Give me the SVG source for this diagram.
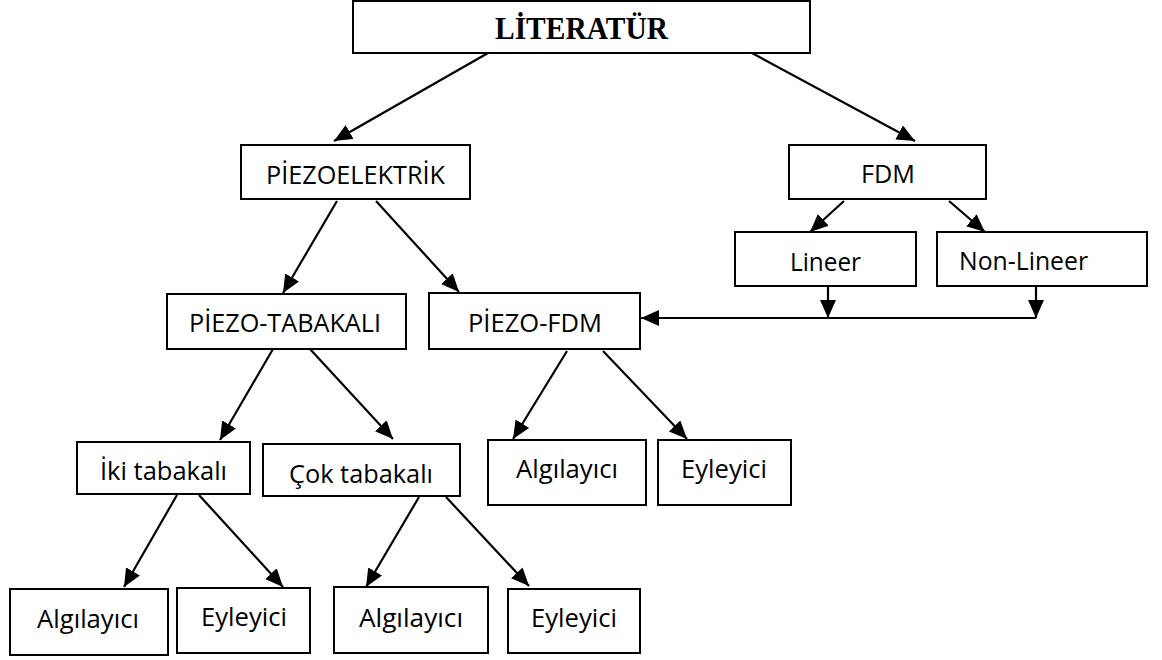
<svg xmlns="http://www.w3.org/2000/svg" width="1162" height="660" viewBox="0 0 1162 660">
<style>
.box{fill:#fff;stroke:#000;stroke-width:2}
.t{font-family:"Open Sans","Noto Sans",sans-serif;font-size:26px;fill:#000}
.tt{font-family:"Liberation Serif","Times New Roman",serif;font-size:32px;font-weight:bold;fill:#000}
.c{fill:none;stroke:#000;stroke-width:2.2}
</style>
<defs>
<marker id="ah" markerUnits="userSpaceOnUse" markerWidth="20" markerHeight="16" refX="18" refY="8" orient="auto">
<path d="M0,0 L18,8 L0,16 z" fill="#000"/>
</marker>
</defs>
<rect width="1162" height="660" fill="#fff"/>
<g id="connectors">
<line class="c" x1="488" y1="53" x2="334" y2="141" marker-end="url(#ah)"/>
<line class="c" x1="752" y1="53" x2="915" y2="141" marker-end="url(#ah)"/>
<line class="c" x1="337" y1="201" x2="283" y2="293" marker-end="url(#ah)"/>
<line class="c" x1="376" y1="201" x2="459" y2="292" marker-end="url(#ah)"/>
<line class="c" x1="844" y1="201" x2="810" y2="232" marker-end="url(#ah)"/>
<line class="c" x1="949" y1="201" x2="985" y2="232" marker-end="url(#ah)"/>
<line class="c" x1="828" y1="286" x2="828" y2="318" marker-end="url(#ah)"/>
<line class="c" x1="1036" y1="286" x2="1036" y2="318" marker-end="url(#ah)"/>
<line class="c" x1="1036" y1="318" x2="641" y2="318" marker-end="url(#ah)"/>
<line class="c" x1="273" y1="349" x2="220" y2="440" marker-end="url(#ah)"/>
<line class="c" x1="310" y1="349" x2="393" y2="439" marker-end="url(#ah)"/>
<line class="c" x1="567" y1="351" x2="513" y2="439" marker-end="url(#ah)"/>
<line class="c" x1="603" y1="351" x2="687" y2="439" marker-end="url(#ah)"/>
<line class="c" x1="177" y1="495" x2="124" y2="587" marker-end="url(#ah)"/>
<line class="c" x1="199" y1="495" x2="283" y2="587" marker-end="url(#ah)"/>
<line class="c" x1="419" y1="497" x2="366" y2="587" marker-end="url(#ah)"/>
<line class="c" x1="446" y1="497" x2="529" y2="586" marker-end="url(#ah)"/>
</g>
<g id="literatur"><rect class="box" x="353" y="1" width="457" height="52"/><text class="tt" x="495" y="39" textLength="173" lengthAdjust="spacingAndGlyphs">LİTERATÜR</text></g>
<g id="piezoelektrik"><rect class="box" x="241" y="145" width="229" height="54"/><text class="t" x="266" y="184" textLength="179" lengthAdjust="spacingAndGlyphs">PİEZOELEKTRİK</text></g>
<g id="fdm"><rect class="box" x="789" y="145" width="197" height="54"/><text class="t" x="861" y="183" textLength="54" lengthAdjust="spacingAndGlyphs">FDM</text></g>
<g id="lineer"><rect class="box" x="735" y="232" width="181" height="54"/><text class="t" x="790" y="271" textLength="71" lengthAdjust="spacingAndGlyphs">Lineer</text></g>
<g id="nonlineer"><rect class="box" x="937" y="232" width="210" height="54"/><text class="t" x="959" y="270" textLength="129" lengthAdjust="spacingAndGlyphs">Non-Lineer</text></g>
<g id="piezotabakali"><rect class="box" x="167" y="294" width="239" height="55"/><text class="t" x="189" y="332" textLength="192" lengthAdjust="spacingAndGlyphs">PİEZO-TABAKALI</text></g>
<g id="piezofdm"><rect class="box" x="429" y="293" width="211" height="56"/><text class="t" x="468" y="332" textLength="134" lengthAdjust="spacingAndGlyphs">PİEZO-FDM</text></g>
<g id="ikitabakali"><rect class="box" x="77" y="442" width="173" height="52"/><text class="t" x="100" y="480" textLength="127" lengthAdjust="spacingAndGlyphs">İki tabakalı</text></g>
<g id="coktabakali"><rect class="box" x="263" y="444" width="197" height="52"/><text class="t" x="289" y="483" textLength="144" lengthAdjust="spacingAndGlyphs">Çok tabakalı</text></g>
<g id="algilayici2"><rect class="box" x="488" y="440" width="158" height="65"/><text class="t" x="516" y="478" textLength="102" lengthAdjust="spacingAndGlyphs">Algılayıcı</text></g>
<g id="eyleyici2"><rect class="box" x="658" y="440" width="133" height="65"/><text class="t" x="681" y="478" textLength="86" lengthAdjust="spacingAndGlyphs">Eyleyici</text></g>
<g id="algilayici1"><rect class="box" x="10" y="589" width="158" height="66"/><text class="t" x="37" y="628" textLength="102" lengthAdjust="spacingAndGlyphs">Algılayıcı</text></g>
<g id="eyleyici1"><rect class="box" x="177" y="588" width="133" height="65"/><text class="t" x="201" y="626" textLength="86" lengthAdjust="spacingAndGlyphs">Eyleyici</text></g>
<g id="algilayici3"><rect class="box" x="334" y="587" width="154" height="66"/><text class="t" x="359" y="627" textLength="104" lengthAdjust="spacingAndGlyphs">Algılayıcı</text></g>
<g id="eyleyici3"><rect class="box" x="508" y="589" width="132" height="64"/><text class="t" x="531" y="627" textLength="86" lengthAdjust="spacingAndGlyphs">Eyleyici</text></g>
</svg>
